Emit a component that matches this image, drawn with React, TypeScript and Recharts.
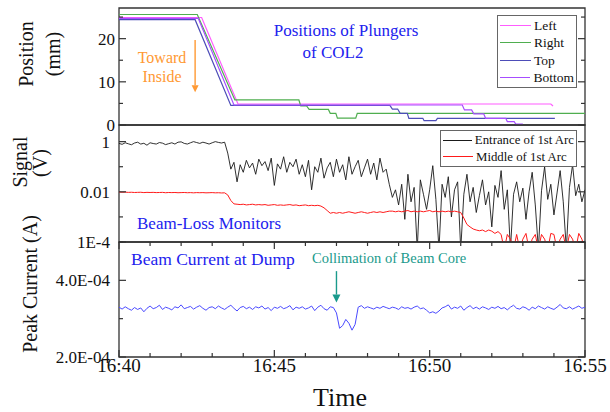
import React from "react";
import {
  LineChart,
  Line,
  XAxis,
  YAxis,
  ReferenceArea,
  ReferenceLine,
  Legend,
} from "recharts";

const FONT = '"Liberation Serif", "Times New Roman", Times, serif';
const AXIS = "#333";

// time in minutes after 16:40
const timeTicks = [0, 1, 2, 3, 4, 5, 6, 7, 8, 9, 10, 11, 12, 13, 14, 15];
const majorTimes = [0, 5, 10, 15];
const majorTimeLabels = ["16:40", "16:45", "16:50", "16:55"];

// plunger positions (mm), [minute, position]
const plungerLeft: [number, number][] = [
  [0, 24.9], [2.66, 24.9], [3.83, 4.86], [13.9, 4.86], [13.97, 4.4],
];
const plungerRight: [number, number][] = [
  [0, 25.6], [2.52, 25.6], [3.73, 5.8], [5.79, 5.8], [5.85, 4.4], [6.04, 4.4],
  [6.12, 3.6], [6.74, 3.6], [6.8, 2.7], [6.98, 2.7], [7.03, 1.6], [7.62, 1.6],
  [7.67, 2.7], [15, 2.7],
];
const plungerTop: [number, number][] = [
  [0, 24.4], [2.45, 24.4], [3.6, 4.55], [8.72, 4.55], [8.8, 3.7], [8.97, 3.7],
  [9.05, 2.7], [9.28, 2.7], [9.33, 1.55], [9.78, 1.55], [9.82, 1.0], [10.2, 1.0],
  [10.25, 1.55], [14.03, 1.55],
];
const plungerBottom: [number, number][] = [
  [0, 24.7], [2.55, 24.7], [3.7, 4.63], [11.05, 4.63], [11.12, 3.5], [11.35, 3.5],
  [11.42, 2.6], [11.74, 2.6], [11.8, 1.55], [12.45, 1.55], [12.5, 0.8], [12.72, 0.8],
  [12.77, 0.2], [13.0, 0.2],
];

const positionTicks = [0, 5, 10, 15, 20, 25];
const positionLabels = ["0", "", "10", "", "20", ""];

// beam-loss monitor signals (V), one sample every 0.1 min
const sampleStep = 0.1;
const entranceSignal = [
  0.85, 0.78, 0.9, 0.82, 0.75, 0.88, 0.95, 0.8, 0.86, 0.72, 0.9, 0.84, 0.8, 0.92, 0.87,
  0.76, 0.83, 0.9, 0.8, 0.95, 0.98, 0.85, 0.8, 0.9, 1.0, 0.92, 0.85, 0.95, 0.88, 0.8,
  0.9, 1.0, 0.93, 0.88, 0.95,
  0.35, 0.08, 0.15, 0.025, 0.12, 0.06, 0.18, 0.09, 0.14, 0.05, 0.2, 0.11, 0.16, 0.07,
  0.22, 0.018, 0.13, 0.08, 0.25, 0.06, 0.15, 0.1, 0.2, 0.05, 0.12, 0.04, 0.18, 0.012,
  0.1, 0.06, 0.22, 0.035, 0.09, 0.15, 0.04, 0.2, 0.06, 0.12, 0.03, 0.25, 0.05, 0.1,
  0.18, 0.04, 0.09, 0.2, 0.05, 0.14, 0.03, 0.22, 0.06, 0.08, 0.02,
  0.006, 0.012, 0.003, 0.02, 0.0008, 0.05, 0.004, 0.015, 0.00005, 0.03, 0.008, 0.002,
  0.012, 0.11, 0.005, 0.00005, 0.02, 0.006, 0.04, 0.001, 0.012, 0.025, 0.00005, 0.008,
  0.05, 0.004, 0.015, 0.0015, 0.007, 0.03, 0.003, 0.01, 0.0004, 0.018, 0.006, 0.07,
  0.002, 0.012, 0.00005, 0.008, 0.025, 0.004, 0.014, 0.0008, 0.01, 0.06, 0.003,
  0.00005, 0.011, 0.1, 0.005, 0.02, 0.0012, 0.009, 0.07, 0.004, 0.00005, 0.015, 0.12,
  0.007, 0.02, 0.004, 0.012,
];
const middleSignal = [
  0.0098, 0.0096, 0.0097, 0.0095, 0.0096, 0.0094, 0.0095, 0.0096, 0.0093, 0.0095,
  0.0094, 0.0095, 0.0093, 0.0094, 0.0095, 0.0092, 0.0094, 0.0093, 0.0094, 0.0092,
  0.0093, 0.0094, 0.0092, 0.0093, 0.0091, 0.0093, 0.0092, 0.0093, 0.0091, 0.0092,
  0.0093, 0.0091, 0.0092, 0.009, 0.0091,
  0.0075, 0.0045, 0.0033,
  0.0032, 0.0031, 0.0032, 0.003, 0.0031, 0.0032, 0.003, 0.0031, 0.003, 0.0031, 0.0029,
  0.003, 0.0031, 0.0029, 0.003, 0.0029, 0.003, 0.0031, 0.0029, 0.003, 0.0028, 0.0029,
  0.003, 0.0028, 0.0029, 0.0028, 0.0029, 0.0027,
  0.0023, 0.0018, 0.0014, 0.0015,
  0.0014, 0.0015, 0.0014, 0.0015, 0.0016, 0.0015, 0.0014, 0.0015, 0.0016, 0.0015,
  0.0014, 0.0015, 0.0016, 0.0015, 0.0016, 0.0015, 0.0016, 0.0017,
  0.0017, 0.0016, 0.0017, 0.0016, 0.0017, 0.0018, 0.0016, 0.0017, 0.0016, 0.0017,
  0.0016, 0.0017, 0.0018, 0.0016, 0.0017, 0.0016, 0.0017, 0.0016, 0.0017, 0.0016,
  0.0017, 0.0016, 0.0015,
  0.0009, 0.0005, 0.0004, 0.00033,
  0.0003, 0.00028, 0.0003, 0.00026, 0.0003, 0.00027, 0.00022, 0.00026,
  0.0002, 0.00005, 0.0002, 0.00013, 0.00005, 0.0002, 0.00005, 0.00013, 0.00022,
  0.00005, 0.00013, 0.0002, 0.00005, 0.0002, 0.00013, 0.00005, 0.00022, 0.0002,
  0.00005, 0.00013, 0.0002, 0.00005, 0.0002, 0.00013, 0.00005, 0.00022, 0.00013,
  0.00005,
];
const signalTicks = [0.0001, 0.001, 0.01, 0.1, 1];
const signalLabels = ["1E-4", "", "0.01", "", "1"];

// peak current at dump, in units of 1E-4 A, one sample every 0.1 min
const peakCurrentE4 = [
  3.3, 3.25, 3.31, 3.26, 3.22, 3.29, 3.24, 3.28, 3.18, 3.27, 3.33, 3.26, 3.29, 3.35,
  3.24, 3.3, 3.27, 3.23, 3.31, 3.28, 3.36, 3.26, 3.29, 3.32, 3.25, 3.3, 3.34, 3.27,
  3.22, 3.29, 3.31, 3.26, 3.33, 3.28, 3.24, 3.3, 3.35, 3.27, 3.2, 3.29, 3.32, 3.26,
  3.3, 3.24, 3.31, 3.28, 3.33, 3.25, 3.29, 3.21, 3.3, 3.27, 3.32, 3.26, 3.29, 3.34,
  3.23, 3.3, 3.27, 3.31, 3.25, 3.28, 3.33, 3.21, 3.3, 3.35, 3.26, 3.22, 3.31, 3.29,
  3.15, 2.75, 2.82, 2.98, 2.88, 2.7, 2.85,
  3.3, 3.34, 3.27, 3.31, 3.28, 3.25, 3.3, 3.27, 3.32, 3.29, 3.26, 3.3, 3.28, 3.24,
  3.31, 3.27, 3.29, 3.25, 3.3, 3.33, 3.26, 3.28, 3.22,
  3.15, 3.18, 3.14, 3.2,
  3.28, 3.31, 3.36, 3.25, 3.3, 3.27, 3.33, 3.22, 3.29, 3.34, 3.26, 3.3, 3.25, 3.31,
  3.28, 3.24, 3.3, 3.27, 3.32, 3.26, 3.29, 3.23, 3.3, 3.35, 3.27, 3.25, 3.31, 3.28,
  3.22, 3.3, 3.26, 3.33, 3.29, 3.25, 3.31, 3.27, 3.24, 3.3, 3.37, 3.28, 3.26, 3.31,
  3.25, 3.29, 3.33, 3.27, 3.3,
];
const currentTicks = [2e-4, 3e-4, 4e-4, 5e-4];
const currentLabels = ["2.0E-04", "", "4.0E-04", ""];

const plungerSeries = [
  { name: "Left", color: "#ff5cff", points: plungerLeft },
  { name: "Right", color: "#4fae4f", points: plungerRight },
  { name: "Top", color: "#4d4db8", points: plungerTop },
  { name: "Bottom", color: "#a64dff", points: plungerBottom },
].map((s) => ({ ...s, data: s.points.map(([t, v]) => ({ t, v })) }));

const signalRows = entranceSignal.map((v, i) => ({
  t: +(i * sampleStep).toFixed(2),
  entrance: v,
  middle: middleSignal[i],
}));

const currentRows = peakCurrentE4.map((v, i) => ({
  t: +(i * sampleStep).toFixed(2),
  current: v * 1e-4,
}));

const tickText = { fontFamily: FONT, fill: "#111" };

function TimeTick(props: any) {
  const { x, y, payload, plotHeight, showLabels } = props;
  const k = majorTimes.indexOf(payload.value);
  const len = k >= 0 ? 7 : 4;
  return (
    <g>
      <line x1={x} x2={x} y1={y} y2={y - len} stroke={AXIS} strokeWidth={1.2} />
      <line x1={x} x2={x} y1={y - plotHeight} y2={y - plotHeight + len} stroke={AXIS} strokeWidth={1.2} />
      {showLabels && k >= 0 && (
        <text x={x} y={y + 15} textAnchor="middle" fontSize={19} style={tickText}>
          {majorTimeLabels[k]}
        </text>
      )}
    </g>
  );
}

function ValueTick(props: any) {
  const { x, y, payload, ticks, labels, plotWidth, gap } = props;
  const idx = ticks.indexOf(payload.value);
  const label = idx >= 0 ? labels[idx] : "";
  const len = label ? 7 : 4;
  return (
    <g>
      <line x1={x} x2={x + len} y1={y} y2={y} stroke={AXIS} strokeWidth={1.2} />
      <line x1={x + plotWidth - len} x2={x + plotWidth} y1={y} y2={y} stroke={AXIS} strokeWidth={1.2} />
      {label && (
        <text x={x - gap} y={y + 6} textAnchor="end" fontSize={17} style={tickText}>
          {label}
        </text>
      )}
    </g>
  );
}

function BoxLegend({ items, fontSize, rowHeight, sample }: any) {
  return (
    <div
      style={{
        border: "1px solid #666",
        background: "#fff",
        padding: "1px 2px 1px 2px",
        fontFamily: FONT,
        fontSize,
        lineHeight: `${rowHeight}px`,
        color: "#111",
        whiteSpace: "nowrap",
      }}
    >
      {items.map((it: any) => (
        <div key={it.name} style={{ display: "flex", alignItems: "center" }}>
          <span
            style={{
              display: "inline-block",
              width: sample,
              borderTop: `1px solid ${it.color}`,
              marginRight: 3,
            }}
          />
          {it.name}
        </div>
      ))}
    </div>
  );
}

const arrowShape = (color: string, head: number) => (p: any) => {
  const x = p.x1;
  const tip = Math.max(p.y1, p.y2);
  const tail = Math.min(p.y1, p.y2);
  return (
    <g>
      <line x1={x} x2={x} y1={tail} y2={tip - head} stroke={color} strokeWidth={1.4} />
      <polygon
        points={`${x - head / 2},${tip - head} ${x + head / 2},${tip - head} ${x},${tip}`}
        fill={color}
      />
    </g>
  );
};

const PLOT_W = 466;

export default function App() {
  return (
    <div
      style={{
        position: "absolute",
        left: 0,
        top: 0,
        width: 610,
        height: 412,
        background: "#fff",
        fontFamily: FONT,
      }}
    >
      <style>{`.recharts-surface{overflow:visible}`}</style>

      {/* plunger positions */}
      <div style={{ position: "absolute", left: 0, top: 0 }}>
        <LineChart width={610} height={125} margin={{ top: 8, right: 25, bottom: 0, left: 0 }}>
          <XAxis
            type="number"
            dataKey="t"
            domain={[0, 15]}
            ticks={timeTicks}
            interval={0}
            allowDataOverflow
            height={0}
            axisLine={false}
            tickLine={false}
            tickSize={0}
            tickMargin={0}
            tick={(p: any) => <TimeTick {...p} plotHeight={117} showLabels={false} />}
          />
          <YAxis
            type="number"
            domain={[0, 27.1]}
            ticks={positionTicks}
            interval={0}
            allowDataOverflow
            width={119}
            axisLine={false}
            tickLine={false}
            tickSize={0}
            tickMargin={0}
            tick={(p: any) => (
              <ValueTick {...p} ticks={positionTicks} labels={positionLabels} plotWidth={PLOT_W} gap={4} />
            )}
          />
          <ReferenceArea x1={0} x2={15} y1={0} y2={27.1} fill="none" stroke={AXIS} strokeWidth={1.3} />
          {plungerSeries.map((s) => (
            <Line
              key={s.name}
              data={s.data}
              dataKey="v"
              name={s.name}
              stroke={s.color}
              strokeWidth={1.2}
              dot={false}
              type="linear"
              isAnimationActive={false}
            />
          ))}
          <ReferenceLine
            segment={[{ x: 2.45, y: 19.7 }, { x: 2.45, y: 7.6 }]}
            shape={arrowShape("#ff9933", 7)}
          />
          <Legend
            layout="vertical"
            align="center"
            verticalAlign="middle"
            wrapperStyle={{ left: 497, top: 15, width: 80 }}
            content={() => (
              <BoxLegend items={plungerSeries} fontSize={13.5} rowHeight={17.3} sample={31} />
            )}
          />
        </LineChart>
      </div>

      {/* beam-loss monitors */}
      <div style={{ position: "absolute", left: 0, top: 125 }}>
        <LineChart width={610} height={117} data={signalRows} margin={{ top: 0, right: 25, bottom: 0, left: 0 }}>
          <XAxis
            type="number"
            dataKey="t"
            domain={[0, 15]}
            ticks={timeTicks}
            interval={0}
            allowDataOverflow
            height={0}
            axisLine={false}
            tickLine={false}
            tickSize={0}
            tickMargin={0}
            tick={(p: any) => <TimeTick {...p} plotHeight={117} showLabels={false} />}
          />
          <YAxis
            type="number"
            scale="log"
            domain={[0.0001, 4.6]}
            ticks={signalTicks}
            interval={0}
            allowDataOverflow
            width={119}
            axisLine={false}
            tickLine={false}
            tickSize={0}
            tickMargin={0}
            tick={(p: any) => (
              <ValueTick {...p} ticks={signalTicks} labels={signalLabels} plotWidth={PLOT_W} gap={9} />
            )}
          />
          <ReferenceArea x1={0} x2={15} y1={0.0001} y2={4.6} fill="none" stroke={AXIS} strokeWidth={1.3} />
          <Line
            dataKey="entrance"
            name="Entrance of 1st Arc"
            stroke="#1a1a1a"
            strokeWidth={0.9}
            dot={false}
            type="linear"
            isAnimationActive={false}
          />
          <Line
            dataKey="middle"
            name="Middle of 1st Arc"
            stroke="#ff1a1a"
            strokeWidth={1}
            dot={false}
            type="linear"
            isAnimationActive={false}
          />
          <Legend
            layout="vertical"
            align="center"
            verticalAlign="middle"
            wrapperStyle={{ left: 440, top: 5, width: 137 }}
            content={() => (
              <BoxLegend
                items={[
                  { name: "Entrance of 1st Arc", color: "#1a1a1a" },
                  { name: "Middle of 1st Arc", color: "#ff1a1a" },
                ]}
                fontSize={12.8}
                rowHeight={16.5}
                sample={30}
              />
            )}
          />
        </LineChart>
      </div>

      {/* beam current at dump */}
      <div style={{ position: "absolute", left: 0, top: 242 }}>
        <LineChart width={610} height={170} data={currentRows} margin={{ top: 0, right: 25, bottom: 0, left: 0 }}>
          <XAxis
            type="number"
            dataKey="t"
            domain={[0, 15]}
            ticks={timeTicks}
            interval={0}
            allowDataOverflow
            height={55}
            axisLine={false}
            tickLine={false}
            tickSize={0}
            tickMargin={0}
            tick={(p: any) => <TimeTick {...p} plotHeight={115} showLabels={true} />}
          />
          <YAxis
            type="number"
            domain={[2e-4, 5e-4]}
            ticks={currentTicks}
            interval={0}
            allowDataOverflow
            width={119}
            axisLine={false}
            tickLine={false}
            tickSize={0}
            tickMargin={0}
            tick={(p: any) => (
              <ValueTick {...p} ticks={currentTicks} labels={currentLabels} plotWidth={PLOT_W} gap={9} />
            )}
          />
          <ReferenceArea x1={0} x2={15} y1={2e-4} y2={5e-4} fill="none" stroke={AXIS} strokeWidth={1.3} />
          <Line
            dataKey="current"
            name="Beam Current at Dump"
            stroke="#4a4aff"
            strokeWidth={1}
            dot={false}
            type="linear"
            isAnimationActive={false}
          />
          <ReferenceLine
            segment={[{ x: 7.0, y: 4.24e-4 }, { x: 7.0, y: 3.42e-4 }]}
            shape={arrowShape("#1a9a8c", 8)}
          />
        </LineChart>
      </div>

      {/* titles and annotations */}
      <svg
        width={610}
        height={412}
        style={{ position: "absolute", left: 0, top: 0, pointerEvents: "none", overflow: "visible" }}
        fontFamily={FONT}
      >
        <text x={346} y={35.5} textAnchor="middle" fontSize={17} fill="#2222ee">
          Positions of Plungers
        </text>
        <text x={333} y={57.5} textAnchor="middle" fontSize={17} fill="#2222ee">
          of COL2
        </text>
        <text x={162} y={63} textAnchor="middle" fontSize={16} fill="#ff9933">
          Toward
        </text>
        <text x={162} y={82} textAnchor="middle" fontSize={16} fill="#ff9933">
          Inside
        </text>
        <text x={137} y={228.5} fontSize={17} fill="#2222ee">
          Beam-Loss Monitors
        </text>
        <text x={131} y={265} fontSize={17.5} fill="#2222ee">
          Beam Current at Dump
        </text>
        <text x={312} y={262.5} fontSize={14.5} fill="#1a9a8c">
          Collimation of Beam Core
        </text>

        <text x={26} y={54} transform="rotate(-90 26 54)" textAnchor="middle" dominantBaseline="central" fontSize={20} fill="#111">
          Position
        </text>
        <text x={53} y={54} transform="rotate(-90 53 54)" textAnchor="middle" dominantBaseline="central" fontSize={20} fill="#111">
          (mm)
        </text>
        <text x={19.5} y={162} transform="rotate(-90 19.5 162)" textAnchor="middle" dominantBaseline="central" fontSize={20} fill="#111">
          Signal
        </text>
        <text x={40} y={163} transform="rotate(-90 40 163)" textAnchor="middle" dominantBaseline="central" fontSize={20} fill="#111">
          (V)
        </text>
        <text x={30} y={284} transform="rotate(-90 30 284)" textAnchor="middle" dominantBaseline="central" fontSize={20} fill="#111">
          Peak Current (A)
        </text>
        <text x={340} y={406} textAnchor="middle" fontSize={26} fill="#111">
          Time
        </text>
      </svg>
    </div>
  );
}
